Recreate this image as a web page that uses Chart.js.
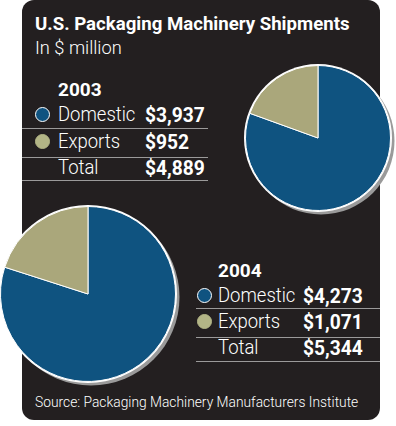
<!DOCTYPE html>
<html>
<head>
<meta charset="utf-8">
<script src="https://cdn.jsdelivr.net/npm/chart.js@4"></script>
<style>
  html, body { margin: 0; padding: 0; background: #fff; }
  body { width: 396px; height: 426px; position: relative; overflow: hidden;
         font-family: "Roboto", "Liberation Sans", sans-serif; }
  #panel { position: absolute; left: 22px; top: 0px; width: 358px; height: 420px;
           background: #231f20; border-radius: 12px; }
  .t { position: absolute; color: #fff; white-space: nowrap; line-height: 1;
       transform-origin: 0 0; }
  .b { font-weight: bold; }
  .l { font-weight: 300; }
  .rule { position: absolute; height: 1px; background: rgba(255,255,255,0.55); }
  .dot { position: absolute; border-radius: 50%; box-sizing: border-box; }
  canvas { position: absolute; }
</style>
</head>
<body>
<div id="panel"></div>
<canvas id="pie2003" width="156" height="156" style="left:240px; top:60px;"></canvas>
<canvas id="pie2004" width="186" height="186" style="left:-5px; top:201px;"></canvas>

<script>
    var categories = ['Domestic', 'Exports'];
    var totalLabel = 'Total';
    var years = ['2003', '2004'];
    var values2003 = [3937, 952];
    var values2004 = [4273, 1071];
    var sliceColors = ['#0f5380', '#aaa77b'];
    var dotColors = ['#0f5380', '#b3b586'];

    function money(v) {
      return '$' + v.toLocaleString('en-US');
    }

    // put a text so that its baseline sits at y, squeezed to look condensed
    function text(str, x, baseline, size, weight, squeeze) {
      var d = document.createElement('div');
      d.className = 't ' + weight;
      d.textContent = str;
      d.style.fontSize = size + 'px';
      d.style.left = x + 'px';
      d.style.top = (baseline - size * 0.8415) + 'px';
      d.style.transform = 'scaleX(' + (squeeze || 0.85) + ')';
      document.body.appendChild(d);
      return d;
    }

    function rule(x1, x2, y) {
      var r = document.createElement('div');
      r.className = 'rule';
      r.style.left = x1 + 'px';
      r.style.width = (x2 - x1) + 'px';
      r.style.top = y + 'px';
      document.body.appendChild(r);
    }

    function dot(cx, cy, r, fill, ring) {
      var d = document.createElement('div');
      d.className = 'dot';
      d.style.left = (cx - r) + 'px';
      d.style.top = (cy - r) + 'px';
      d.style.width = d.style.height = (2 * r) + 'px';
      d.style.background = fill;
      d.style.border = '1.5px solid ' + ring;
      document.body.appendChild(d);
    }

    // legend table for one year
    function table(year, values, t) {
      text(year, t.label, t.head, 19, 'b', 1.0);
      var total = values.reduce(function (a, b) { return a + b; }, 0);
      var labels = categories.concat([totalLabel]);
      var nums = values.concat([total]);
      for (var i = 0; i < labels.length; i++) {
        var base = t.rows[i];
        if (i < categories.length) {
          dot(t.dot, base - 7.5, 7.5, dotColors[i], i == 0 ? '#ffffff' : dotColors[i]);
        }
        text(labels[i], t.label, base, 21, 'l', 0.88);
        text(money(nums[i]), t.value, base, 20, 'b', 0.96);
        rule(t.x1, t.x2, t.lines[i]);
      }
    }

    text('U.S. Packaging Machinery Shipments', 35, 30, 19, 'b', 0.98);
    text('In $ million', 35, 54, 19, 'l', 0.96);
    text('Source: Packaging Machinery Manufacturers Institute', 35, 408, 15, 'l', 0.92);

    table(years[0], values2003, { head: 96, rows: [122, 149, 175], lines: [128, 157, 180],
      x1: 22, x2: 208, dot: 42, label: 58, value: 145 });
    table(years[1], values2004, { head: 277, rows: [303, 329, 355], lines: [308, 337, 361],
      x1: 196, x2: 380, dot: 204, label: 218, value: 303 });

    // gray drop shadow and white rim behind each pie
    var pieShadow = {
      id: 'pieShadow',
      beforeDatasetsDraw: function (chart) {
        var arc = chart.getDatasetMeta(0).data[0];
        var c = chart.ctx;
        c.save();
        c.fillStyle = '#9a9a9a';
        c.beginPath();
        c.arc(arc.x + 3, arc.y + 3, arc.outerRadius + 1, 0, Math.PI * 2);
        c.fill();
        c.fillStyle = '#ffffff';
        c.beginPath();
        c.arc(arc.x, arc.y, arc.outerRadius + 1.5, 0, Math.PI * 2);
        c.fill();
        c.restore();
      }
    };

    function pie(id, values) {
      return new Chart(document.getElementById(id), {
        type: 'pie',
        data: {
          labels: categories,
          datasets: [{
            data: values,
            backgroundColor: sliceColors,
            borderColor: '#ffffff',
            borderWidth: 1
          }]
        },
        options: {
          responsive: false,
          animation: false,
          layout: { padding: 5 },
          plugins: { legend: { display: false }, tooltip: { enabled: false } }
        },
        plugins: [pieShadow]
      });
    }

    var pie1 = pie('pie2003', values2003);
    var pie2 = pie('pie2004', values2004);
</script>
</body>
</html>
